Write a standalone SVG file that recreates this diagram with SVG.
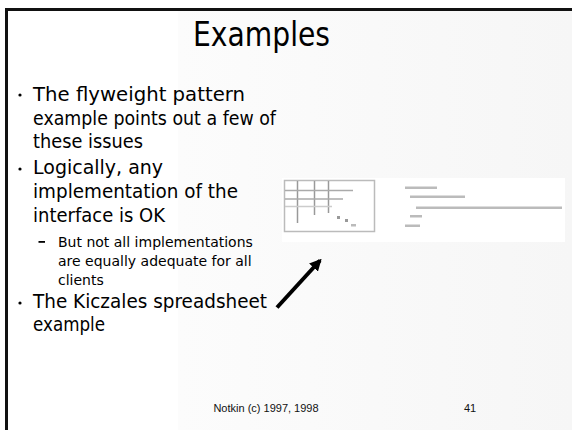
<svg xmlns="http://www.w3.org/2000/svg" width="572" height="430" viewBox="0 0 572 430">
<defs>
<linearGradient id="bg" x1="0" y1="0" x2="1" y2="0">
<stop offset="0" stop-color="#fcfcfc"/>
<stop offset="1" stop-color="#f6f6f6"/>
</linearGradient>
<marker id="ah" viewBox="0 0 10 10" refX="8" refY="5" markerWidth="3" markerHeight="3" orient="auto" markerUnits="strokeWidth">
<path d="M0,0 L10,5 L0,10 Z" fill="#000"/>
</marker>
<style>
.t{font-family:"DejaVu Sans",sans-serif;fill:#000}
.b{font-size:19px}
.s{font-size:14px}
.f{font-family:"Liberation Sans",sans-serif;font-size:11px;fill:#111}
.g{fill:none;stroke:#bbb;stroke-width:1.5}
.c{fill:#bbb}
</style>
</defs>
<rect x="0" y="0" width="572" height="430" fill="#fff"/>
<rect x="178" y="10" width="394" height="420" fill="url(#bg)"/>
<path d="M6.5,430 V9.5 H572" fill="none" stroke="#111" stroke-width="3"/>

<g id="title"><text class="t" x="193" y="46" font-size="34" textLength="137" lengthAdjust="spacingAndGlyphs">Examples</text></g>

<g id="body">
<circle cx="20" cy="95" r="1.6" fill="#000"/>
<text class="t b" x="33" y="101" textLength="212" lengthAdjust="spacingAndGlyphs">The flyweight pattern</text>
<text class="t b" x="33" y="124.5" textLength="243" lengthAdjust="spacingAndGlyphs">example points out a few of</text>
<text class="t b" x="33" y="148" textLength="110" lengthAdjust="spacingAndGlyphs">these issues</text>
<circle cx="20" cy="169" r="1.6" fill="#000"/>
<text class="t b" x="33" y="174">Logically, any</text>
<text class="t b" x="33" y="198" textLength="205" lengthAdjust="spacingAndGlyphs">implementation of the</text>
<text class="t b" x="33" y="222" textLength="132" lengthAdjust="spacingAndGlyphs">interface is OK</text>
<rect x="38.5" y="241" width="6.5" height="1.8" fill="#000"/>
<text class="t s" x="58" y="247">But not all implementations</text>
<text class="t s" x="58" y="266">are equally adequate for all</text>
<text class="t s" x="58" y="285">clients</text>
<circle cx="20" cy="303" r="1.6" fill="#000"/>
<text class="t b" x="33" y="308" textLength="234" lengthAdjust="spacingAndGlyphs">The Kiczales spreadsheet</text>
<text class="t b" x="33" y="331" textLength="72" lengthAdjust="spacingAndGlyphs">example</text>
</g>

<g id="picture">
<rect x="282" y="178" width="283" height="64" fill="#fff"/>
<rect x="284.5" y="180.5" width="90" height="51" class="g"/>
<g stroke="#999" stroke-width="1.5">
<line x1="297.5" y1="181" x2="297.5" y2="223"/>
<line x1="314.5" y1="181" x2="314.5" y2="215"/>
<line x1="328.5" y1="181" x2="328.5" y2="213"/>
<line x1="285" y1="190.5" x2="353" y2="190.5" stroke="#aaa"/>
<line x1="285" y1="199" x2="343" y2="199" stroke="#aaa"/>
<line x1="285" y1="206.5" x2="332" y2="206.5" stroke="#ccc"/>
</g>
<rect x="337" y="216" width="3" height="3" fill="#999"/>
<rect x="345" y="219" width="3" height="3" fill="#999"/>
<rect x="351" y="224" width="5" height="2.5" fill="#bbb"/>
<rect class="c" x="405" y="186.5" width="32" height="2.5"/>
<rect class="c" x="410" y="195.5" width="55" height="2.5"/>
<rect class="c" x="416" y="206.5" width="146" height="2.5"/>
<rect class="c" x="410" y="215" width="12" height="2.5"/>
<rect class="c" x="405" y="224.5" width="15" height="2.5"/>
</g>

<g id="connectors">
<line x1="277" y1="307.5" x2="320" y2="260.5" stroke="#000" stroke-width="4" marker-end="url(#ah)"/>
</g>

<g id="footer">
<text class="f" x="266" y="412" text-anchor="middle">Notkin (c) 1997, 1998</text>
<text class="f" x="470" y="412" text-anchor="middle">41</text>
</g>
</svg>
